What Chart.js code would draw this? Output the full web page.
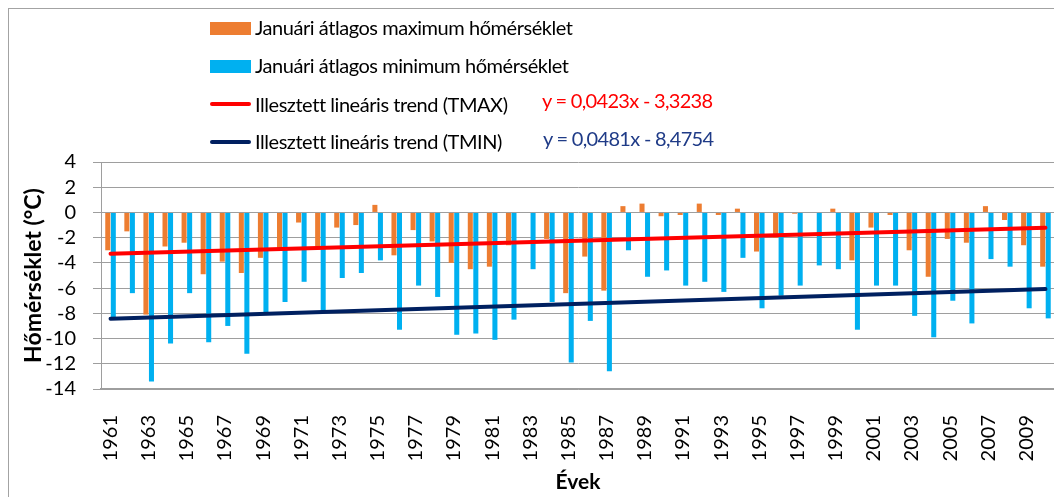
<!DOCTYPE html>
<html>
<head>
<meta charset="utf-8">
<script src="https://cdn.jsdelivr.net/npm/chart.js@4/dist/chart.umd.min.js"></script>
<style>
  html, body { margin: 0; padding: 0; overflow: hidden; background: #fff; }
  #keret { position: absolute; left: 8px; top: 8px; width: 1100px; height: 600px; border: 1px solid #a3a3a3; }
  #grafikon { position: absolute; left: 0; top: 0; }
  .sor { position: absolute; left: 210px; height: 24px; line-height: 24px; white-space: nowrap;
         font-family: Lato, sans-serif; font-size: 20px; letter-spacing: -0.45px; color: #000; }
  .minta { position: absolute; left: 0; width: 41px; }
  .felirat { position: absolute; left: 45px; top: 0; }
  .egyenlet { position: absolute; height: 24px; line-height: 24px; white-space: nowrap;
              font-family: Lato, sans-serif; font-size: 20px; letter-spacing: -0.7px; }
</style>
</head>
<body>
<div id="keret"></div>
<canvas id="grafikon" width="1055" height="497"></canvas>

<div class="sor" style="top:15px"><div class="minta" style="top:7px;height:13px;background:#ED7D31"></div><span class="felirat">Januári átlagos maximum hőmérséklet</span></div>
<div class="sor" style="top:53px"><div class="minta" style="top:7px;height:13px;background:#00B0F0"></div><span class="felirat">Januári átlagos minimum hőmérséklet</span></div>
<div class="sor" style="top:92px"><div class="minta" style="top:10px;height:4px;border-radius:2px;background:#FF0000"></div><span class="felirat">Illesztett lineáris trend (TMAX)</span></div>
<div class="sor" style="top:129px"><div class="minta" style="top:11px;height:4px;border-radius:2px;background:#002060"></div><span class="felirat">Illesztett lineáris trend (TMIN)</span></div>
<div class="egyenlet" style="left:542px;top:88px;color:#FF0000">y = 0,0423x - 3,3238</div>
<div class="egyenlet" style="left:543px;top:126px;color:#1F3B87">y = 0,0481x - 8,4754</div>

<script>
// Évek (kategóriák)
const evek = [];
for (let ev = 1961; ev <= 2010; ev++) evek.push(String(ev));

// Januári átlagos maximum hőmérséklet (°C)
const tmax = [-3.0, -1.5, -8.1, -2.7, -2.4, -4.9, -3.9, -4.8, -3.6, -2.8,
              -0.8, -2.7, -1.2, -1.0, 0.6, -3.4, -1.4, -2.3, -4.0, -4.5,
              -4.3, -2.6, 0.0, -2.1, -6.4, -3.5, -6.2, 0.5, 0.7, -0.3,
              -0.2, 0.7, -0.2, 0.3, -3.1, -2.0, -0.1, 0.0, 0.3, -3.8,
              -1.2, -0.2, -3.0, -5.1, -2.1, -2.4, 0.5, -0.6, -2.6, -4.3];

// Januári átlagos minimum hőmérséklet (°C)
const tmin = [-8.3, -6.4, -13.4, -10.4, -6.4, -10.3, -9.0, -11.2, -8.0, -7.1,
              -5.5, -7.8, -5.2, -4.8, -3.8, -9.3, -5.8, -6.7, -9.7, -9.6,
              -10.1, -8.5, -4.5, -7.1, -11.9, -8.6, -12.6, -3.0, -5.1, -4.6,
              -5.8, -5.5, -6.3, -3.6, -7.6, -6.6, -5.8, -4.2, -4.5, -9.3,
              -5.8, -5.8, -8.2, -9.9, -7.0, -8.8, -3.7, -4.3, -7.6, -8.4];

// Illesztett lineáris trendek végpontjai (1961, 2010)
const trendMax = [{ x: '1961', y: -3.28 }, { x: '2010', y: -1.21 }];
const trendMin = [{ x: '1961', y: -8.43 }, { x: '2010', y: -6.07 }];

// Y tengely
const yMin = -14, yMax = 4, yLepes = 2;

const betu = 'Lato, sans-serif';
const racs = '#9e9e9e';

new Chart(document.getElementById('grafikon'), {
  type: 'bar',
  data: {
    labels: evek,
    datasets: [
      { type: 'line', data: trendMax, borderColor: '#FF0000', borderWidth: 4, pointRadius: 0, order: 0, borderCapStyle: 'round' },
      { type: 'line', data: trendMin, borderColor: '#002060', borderWidth: 4, pointRadius: 0, order: 0, borderCapStyle: 'round' },
      { data: tmax, backgroundColor: '#ED7D31', categoryPercentage: 0.58, barPercentage: 0.91, order: 1 },
      { data: tmin, backgroundColor: '#00B0F0', categoryPercentage: 0.58, barPercentage: 0.91, order: 1 }
    ]
  },
  options: {
    responsive: false,
    animation: false,
    layout: { padding: { top: 162, left: 0, right: 0, bottom: 0 } },
    plugins: { legend: { display: false }, tooltip: { enabled: false } },
    scales: {
      x: {
        grid: { display: false },
        border: { color: racs, width: 1.5 },
        ticks: {
          autoSkip: false, maxRotation: 90, minRotation: 90, padding: 18,
          color: '#000', font: { family: betu, size: 20 },
          callback: (v, i) => (i % 2 === 0 ? evek[i] : '')
        },
        title: { display: true, text: 'Évek', color: '#000', font: { family: betu, size: 21, weight: 'bold' }, padding: { top: 0, bottom: 2 } },
        afterFit: s => { s.height = 108; s.paddingLeft = 0; s.paddingRight = 0; }
      },
      y: {
        min: yMin, max: yMax,
        grid: { color: racs, tickLength: 8, lineWidth: 1 },
        border: { color: racs },
        ticks: { stepSize: yLepes, autoSkip: false, padding: 17, color: '#000', font: { family: betu, size: 20 } },
        title: { display: true, text: 'Hőmérséklet (°C)', color: '#000', font: { family: betu, size: 23, weight: 'bold' }, padding: { top: 20, bottom: 0 } },
        afterFit: s => { s.width = 101; }
      }
    }
  }
});
</script>
</body>
</html>
